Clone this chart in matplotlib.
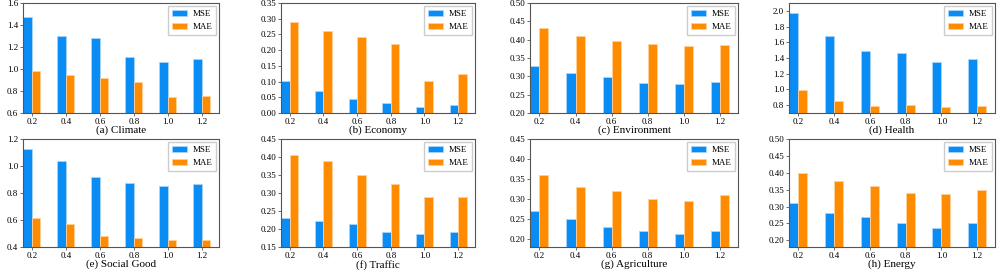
import numpy as np
import matplotlib.pyplot as plt

plt.rcParams['font.family'] = 'Liberation Serif'

ratios = ['0.2', '0.4', '0.6', '0.8', '1.0', '1.2']

titles = ['(a) Climate', '(b) Economy', '(c) Environment', '(d) Health',
          '(e) Social Good', '(f) Traffic', '(g) Agriculture', '(h) Energy']

mse_climate = [1.47, 1.30, 1.28, 1.105, 1.06, 1.095]
mae_climate = [0.985, 0.95, 0.92, 0.88, 0.745, 0.757]
mse_economy = [0.103, 0.070, 0.045, 0.032, 0.018, 0.025]
mae_economy = [0.289, 0.260, 0.243, 0.221, 0.101, 0.125]
mse_environment = [0.329, 0.310, 0.297, 0.281, 0.279, 0.285]
mae_environment = [0.433, 0.410, 0.397, 0.388, 0.382, 0.386]
mse_health = [1.97, 1.685, 1.49, 1.465, 1.355, 1.39]
mae_health = [0.99, 0.855, 0.795, 0.80, 0.775, 0.785]
mse_social = [1.125, 1.035, 0.92, 0.872, 0.853, 0.865]
mae_social = [0.617, 0.573, 0.48, 0.463, 0.451, 0.452]
mse_traffic = [0.231, 0.222, 0.215, 0.193, 0.187, 0.193]
mae_traffic = [0.405, 0.388, 0.351, 0.325, 0.288, 0.290]
mse_agri = [0.270, 0.250, 0.230, 0.220, 0.213, 0.220]
mae_agri = [0.360, 0.330, 0.320, 0.300, 0.294, 0.310]
mse_energy = [0.310, 0.280, 0.270, 0.250, 0.235, 0.250]
mae_energy = [0.398, 0.376, 0.360, 0.340, 0.338, 0.350]

mse_all = [mse_climate, mse_economy, mse_environment, mse_health,
           mse_social, mse_traffic, mse_agri, mse_energy]
mae_all = [mae_climate, mae_economy, mae_environment, mae_health,
           mae_social, mae_traffic, mae_agri, mae_energy]

ylims = [(0.6, 1.6), (0.0, 0.35), (0.2, 0.5), (0.7, 2.1),
         (0.4, 1.2), (0.15, 0.45), (0.18, 0.45), (0.18, 0.5)]
yticks = [np.arange(0.6, 1.61, 0.2), np.arange(0, 0.351, 0.05), np.arange(0.2, 0.51, 0.05),
          np.arange(0.8, 2.01, 0.2), np.arange(0.4, 1.21, 0.2), np.arange(0.15, 0.451, 0.05),
          np.arange(0.2, 0.451, 0.05), np.arange(0.2, 0.51, 0.05)]
yfmt = ['%.1f', '%.2f', '%.2f', '%.1f', '%.1f', '%.2f', '%.2f', '%.2f']

# axes boxes in pixels (left, right) per column, (top, bottom) per row
cols = [(23, 219), (281, 475), (530, 738), (789, 995)]
rows = [(3, 113), (139, 247)]
W, H = 997, 272

fig = plt.figure(figsize=(9.97, 2.72), dpi=100)
x = np.arange(len(ratios))
w = 0.25
for i in range(8):
    l, r = cols[i % 4]
    t, b = rows[i // 4]
    ax = fig.add_axes([l / W, 1 - b / H, (r - l) / W, (b - t) / H])
    ax.bar(x - w / 2, mse_all[i], w, color='#0a8cf5', edgecolor='#a8d4fb', linewidth=0.6, label='MSE')
    ax.bar(x + w / 2, mae_all[i], w, color='#ff8c00', edgecolor='#ffd09a', linewidth=0.6, label='MAE')
    ax.set_xlim(-0.26, 5.5)
    ax.set_ylim(*ylims[i])
    ax.set_yticks(yticks[i])
    ax.set_yticklabels([yfmt[i] % v for v in yticks[i]])
    ax.set_xticks(x)
    ax.set_xticklabels(ratios)
    ax.tick_params(labelsize=6.5, length=2, width=0.6, pad=1.5, color='#555555')
    ax.set_xlabel(titles[i], fontsize=8, labelpad=0)
    for s in ax.spines.values():
        s.set_color('#555555')
        s.set_linewidth(0.8)
    ax.legend(loc='upper right', fontsize=6.5, handlelength=1.7, handletextpad=0.6,
              borderpad=0.45, labelspacing=0.5, borderaxespad=0.3,
              fancybox=False, edgecolor='#cccccc', framealpha=1)

plt.savefig('out.png', dpi=100)
